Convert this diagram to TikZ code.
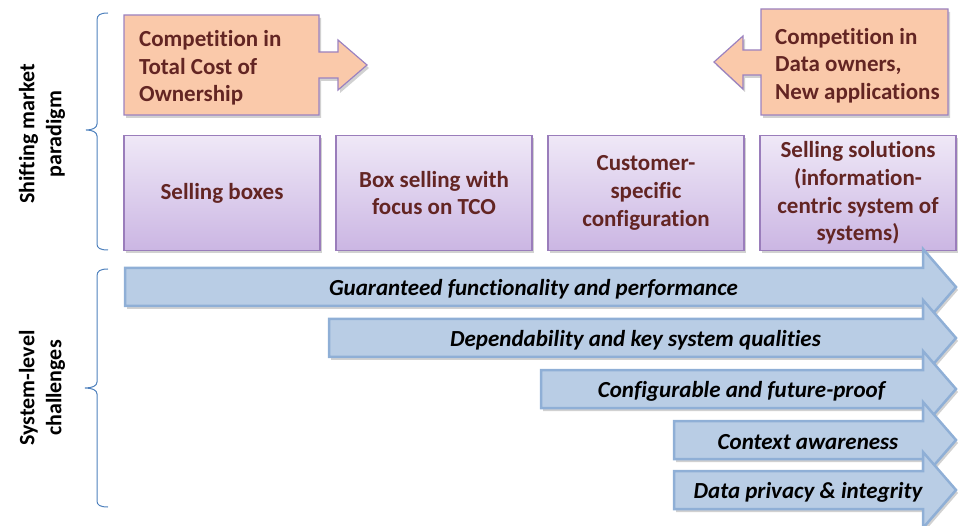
\documentclass[tikz,border=0pt]{standalone}
\usepackage{fontspec}
\setmainfont{Carlito}[Ligatures=NoCommon]
\usetikzlibrary{shadows}
\definecolor{maroon}{RGB}{99,37,35}
\definecolor{ptop}{RGB}{239,232,247}
\definecolor{pbot}{RGB}{203,182,227}
\definecolor{pline}{RGB}{154,125,187}
\definecolor{ofill}{RGB}{250,201,170}
\definecolor{oline}{RGB}{155,130,192}
\definecolor{bfill}{RGB}{185,205,229}
\definecolor{bline}{RGB}{143,175,214}
\definecolor{brace}{RGB}{79,129,189}
\tikzset{
  shad/.style={drop shadow={shadow xshift=2pt,shadow yshift=-3pt,opacity=0.3,fill=black!60}},
  pbox/.style={draw=pline,line width=1.2pt,top color=ptop,bottom color=pbot,shad,
    minimum width=196pt,minimum height=115pt,align=center,text=maroon,
    font=\bfseries\fontsize{23}{27.7}\selectfont,inner sep=2pt},
  obox/.style={draw=oline,line width=1.2pt,fill=ofill,shad},
  otext/.style={align=left,anchor=west,text=maroon,font=\bfseries\fontsize{23}{27.5}\selectfont,inner sep=0pt},
  barrow/.style={draw=bline,line width=2.5pt,fill=bfill,shad,line join=miter},
  btext/.style={font=\bfseries\itshape\fontsize{23}{27}\selectfont,inner sep=0pt},
  side/.style={rotate=90,align=center,font=\bfseries\fontsize{22}{27}\selectfont,inner sep=0pt},
  bracel/.style={draw=brace,line width=1pt}
}
\newcommand\challenge[4]{%
  \draw[barrow] (#2,#3-19) -- (923,#3-19) -- (923,#3-38) -- (956,#3) -- (923,#3+38) -- (923,#3+19) -- (#2,#3+19) -- cycle;
  \node[btext] (#1) at ({(#2+958)/2-8},#3+2) {#4};}
\begin{document}
\begin{tikzpicture}[x=1pt,y=-1pt]
\useasboundingbox (0,0) rectangle (958,526);
% braces
\draw[bracel] (108,13) .. controls (100,13) and (97,15) .. (97,20) -- (97,124)
  .. controls (97,128) and (92,130) .. (86,130) .. controls (92,130) and (97,132) .. (97,136)
  -- (97,244) .. controls (97,248) and (100,250) .. (108,250);
\draw[bracel] (108,269) .. controls (100,269) and (97,271) .. (97,276) -- (97,382)
  .. controls (97,386) and (92,388) .. (85,388) .. controls (92,388) and (97,390) .. (97,394)
  -- (97,501) .. controls (97,505) and (100,507) .. (108,507);
\node[side] (lab1) at (42,134) {Shifting market\\paradigm};
\node[side] (lab2) at (42,388) {System-level\\challenges};
% orange boxes
\draw[obox] (124,15) -- (319,15) -- (319,52) -- (338,52) -- (338,40) -- (367,65) -- (338,90) -- (338,78) -- (319,78) -- (319,115) -- (124,115) -- cycle;
\node[otext] (tco) at (139,68) {Competition in\\Total Cost of\\Ownership};
\draw[obox] (948,9) -- (761,9) -- (761,50) -- (743,50) -- (743,36) -- (714,62) -- (743,89) -- (743,75) -- (761,75) -- (761,115) -- (948,115) -- cycle;
\node[otext] (data) at (775,65.5) {Competition in\\Data owners,\\New applications};
% purple boxes
\node[pbox] (b1) at (222,193) {Selling boxes};
\node[pbox] (b2) at (434,193) {Box selling with\\focus on TCO};
\node[pbox] (b3) at (646,193) {Customer-\\specific\\configuration};
\node[pbox] (b4) at (858,193) {Selling solutions\\(information-\\centric system of\\systems)};
% blue arrows
\challenge{c1}{125}{287}{Guaranteed functionality and performance}
\challenge{c2}{329}{338}{Dependability and key system qualities}
\challenge{c3}{541}{389}{Configurable and future-proof}
\challenge{c4}{674}{440}{Context awareness}
\challenge{c5}{674}{490}{Data privacy \& integrity}
\end{tikzpicture}
\end{document}
